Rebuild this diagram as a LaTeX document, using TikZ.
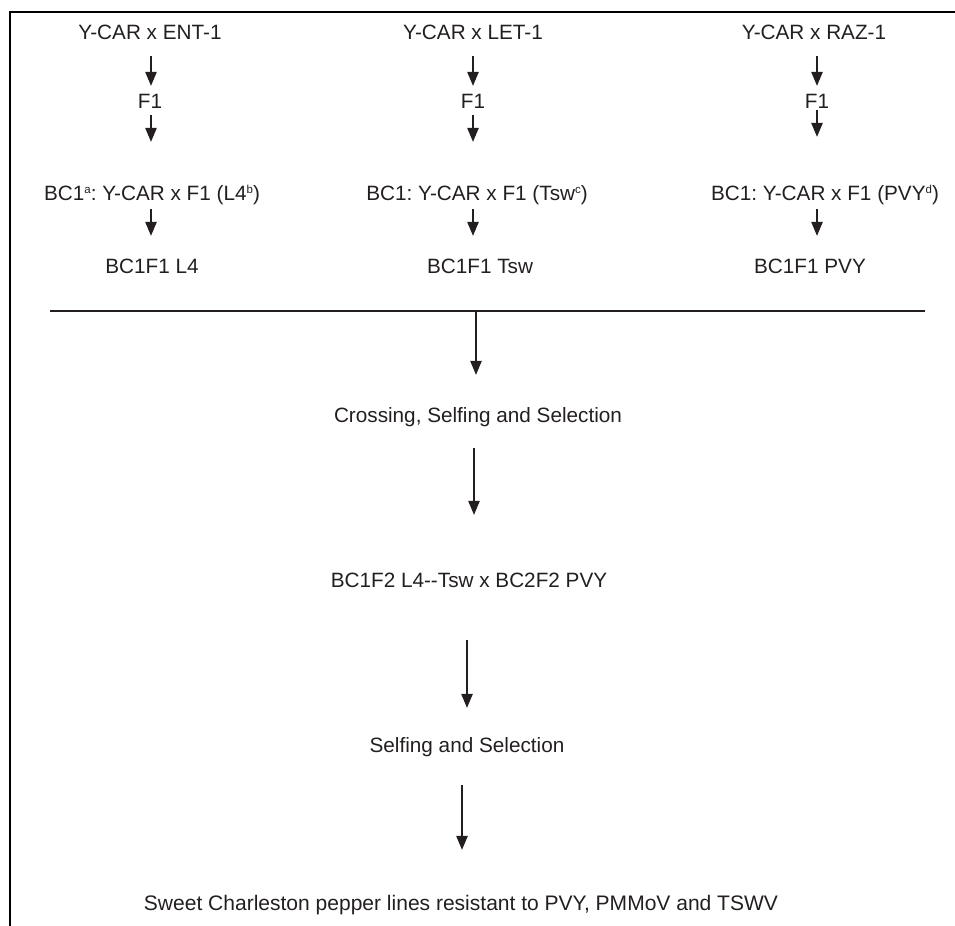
\documentclass[tikz,border=0pt]{standalone}
\usepackage{fontspec}
\setmainfont{Liberation Sans}
\usetikzlibrary{arrows.meta}
\definecolor{ink}{HTML}{231F20}
\newcommand\supmark[1]{\raisebox{0.62ex}{\fontsize{11.5}{12}\selectfont #1}}
\begin{document}
\frenchspacing
\begin{tikzpicture}[x=1bp,y=-1bp,
  lbl/.style={inner sep=0pt, anchor=base, text height=15bp, text depth=0pt,
              font=\fontsize{20.8}{24}\selectfont, text=ink},
  arr/.style={draw=ink, line width=1.1bp, -{Triangle[width=11.5bp,length=14bp]}},
  rule/.style={draw=ink, line width=1.5bp},
  frame/.style={draw=black, line width=2.5bp}]
\useasboundingbox (0,0) rectangle (955,926);
% frame
\coordinate (tr) at (955,12);
\coordinate (tl) at (10,12);
\coordinate (bl) at (10,926);
\draw[frame] (tr) -- (tl) -- (bl);
% column axes
\coordinate (c1) at (151,0);
\coordinate (c2) at (473,0);
\coordinate (c3) at (817,0);
% column 1
\node[lbl] (p1) at (150,39) {Y-CAR x ENT-1};
\node[lbl] (f1a) at (150,108) {F1};
\node[lbl] (bca) at (152,200) {BC1\supmark{a}: Y-CAR x F1 (L4\supmark{b})};
\node[lbl] (bfa) at (152,273) {BC1F1 L4};
\draw[arr, shorten <=17bp, shorten >=7bp] (c1 |- p1.south) -- (c1 |- f1a.north);
\draw[arr, shorten <=7bp, shorten >=43bp] (c1 |- f1a.south) -- (c1 |- bca.north);
\draw[arr, shorten <=9bp, shorten >=22bp] (c1 |- bca.south) -- (c1 |- bfa.north);
% column 2
\node[lbl] (p2) at (473,39) {Y-CAR x LET-1};
\node[lbl] (f1b) at (473,108) {F1};
\node[lbl] (bcb) at (477,200) {BC1: Y-CAR x F1 (Tsw\supmark{c})};
\node[lbl] (bfb) at (480,273) {BC1F1 Tsw};
\draw[arr, shorten <=17bp, shorten >=7bp] (c2 |- p2.south) -- (c2 |- f1b.north);
\draw[arr, shorten <=7bp, shorten >=43bp] (c2 |- f1b.south) -- (c2 |- bcb.north);
\draw[arr, shorten <=9bp, shorten >=22bp] (c2 |- bcb.south) -- (c2 |- bfb.north);
% column 3
\node[lbl] (p3) at (814,39) {Y-CAR x RAZ-1};
\node[lbl] (f1c) at (817,108) {F1};
\node[lbl] (bcc) at (825,200) {BC1: Y-CAR x F1 (PVY\supmark{d})};
\node[lbl] (bfc) at (810,273) {BC1F1 PVY};
\draw[arr, shorten <=17bp, shorten >=7bp] (c3 |- p3.south) -- (c3 |- f1c.north);
\draw[arr, shorten <=2bp, shorten >=48bp] (c3 |- f1c.south) -- (c3 |- bcc.north);
\draw[arr, shorten <=9bp, shorten >=22bp] (c3 |- bcc.south) -- (c3 |- bfc.north);
% merge line
\coordinate (hl) at (50,311);
\coordinate (hr) at (925,311);
\coordinate (ha) at (476,311);
\draw[rule] (hl) -- (hr);
% lower axes
\coordinate (ab) at (474,0);
\coordinate (ac) at (467,0);
\coordinate (ad) at (462,0);
% lower chain
\node[lbl] (cross) at (478,422) {Crossing, Selfing and Selection};
\node[lbl] (bcf2) at (469,587) {BC1F2 L4-\kern0pt-Tsw x BC2F2 PVY};
\node[lbl] (self) at (467,752) {Selfing and Selection};
\node[lbl, font=\fontsize{21.1}{24}\selectfont] (sweet) at (461,910) {Sweet Charleston pepper lines resistant to PVY, PMMoV and TSWV};
\draw[arr, shorten >=32bp] (ha) -- (ha |- cross.north);
\draw[arr, shorten <=26bp, shorten >=57bp] (ab |- cross.south) -- (ab |- bcf2.north);
\draw[arr, shorten <=53bp, shorten >=29bp] (ac |- bcf2.south) -- (ac |- self.north);
\draw[arr, shorten <=33bp, shorten >=45bp] (ad |- self.south) -- (ad |- sweet.north);
\end{tikzpicture}
\end{document}
